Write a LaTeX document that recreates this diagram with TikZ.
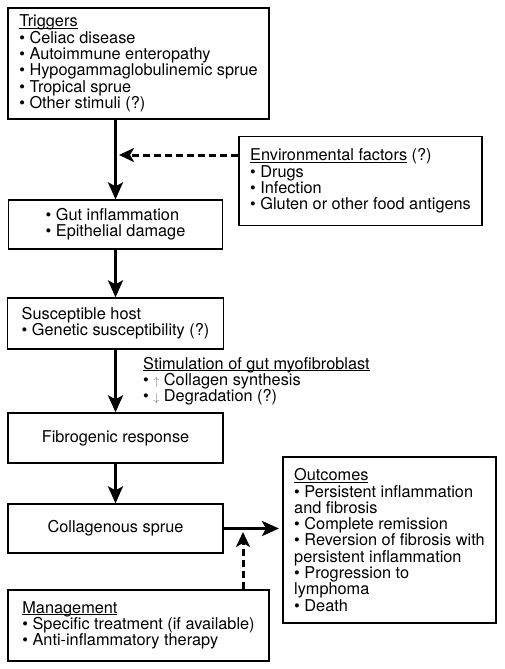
\documentclass[tikz,border=0pt]{standalone}
\usepackage{fontspec}
\setmainfont{TeX Gyre Heros}
\usetikzlibrary{arrows.meta}
\newcommand\myul[1]{\setbox0\hbox{#1}\rlap{\rule[-1.8pt]{\wd0}{0.9pt}}\box0}
\newcommand\thinarr[1]{{\color{black!55}\fontsize{13}{13}\selectfont$#1$}}
\begin{document}
\begin{tikzpicture}[x=1pt,y=1pt,
  box/.style={draw,line width=1.3pt,align=left,inner sep=0pt,font=\fontsize{16.3}{16.3}\selectfont},
  txt/.style={align=left,inner sep=0pt,font=\fontsize{16.3}{16.3}\selectfont},
  arr/.style={line width=3pt,-{Stealth[length=17pt,width=15pt,inset=4pt]}},
  darr/.style={line width=3pt,dash pattern=on 7pt off 4pt,-{Stealth[length=15pt,width=14pt,inset=4pt]}}
]
\useasboundingbox (0,0) rectangle (504,-669);
\fill[white] (0,0) rectangle (504,-669);
\node[box,minimum width=261pt,minimum height=111pt] (trig) at (138.5,-63.5)
  {\myul{Triggers}\\ \textbullet\ Celiac disease\\ \textbullet\ Autoimmune enteropathy\\ \textbullet\ Hypogammaglobulinemic sprue\\ \textbullet\ Tropical sprue\\ \textbullet\ Other stimuli (?)};
\node[box,minimum width=243pt,minimum height=89pt] (env) at (360.5,-181)
  {\myul{Environmental factors}\ (?)\\ \textbullet\ Drugs\\ \textbullet\ Infection\\ \textbullet\ Gluten or other food antigens};
\node[box,minimum width=214pt,minimum height=49pt] (gut) at (115.5,-224.5)
  {\textbullet\ Gut inflammation\\ \textbullet\ Epithelial damage};
\node[box,minimum width=216pt,minimum height=51pt] (host) at (115.5,-323.5)
  {Susceptible host\\ \textbullet\ Genetic susceptibility (?)};
\node[txt,anchor=north west] (stim) at (143,-357)
  {\myul{Stimulation of gut myofibroblast}\\ \textbullet\ \thinarr{\uparrow} Collagen synthesis\\ \textbullet\ \thinarr{\downarrow} Degradation (?)};
\node[box,align=center,minimum width=215pt,minimum height=50pt] (fib) at (115.5,-438)
  {Fibrogenic response};
\node[box,align=center,minimum width=215pt,minimum height=49pt] (coll) at (115.5,-528.5)
  {Collagenous sprue};
\node[box,minimum width=213pt,minimum height=166pt] (out) at (389.5,-540)
  {\myul{Outcomes}\\ \textbullet\ Persistent inflammation\\ and fibrosis\\ \textbullet\ Complete remission\\ \textbullet\ Reversion of fibrosis with\\ persistent inflammation\\ \textbullet\ Progression to\\ lymphoma\\ \textbullet\ Death};
\node[box,minimum width=261pt,minimum height=71pt] (mgmt) at (138.5,-625.5)
  {\myul{Management}\\ \textbullet\ Specific treatment (if available)\\ \textbullet\ Anti-inflammatory therapy};
\coordinate (envtip) at (119,-155);
\coordinate (mtip) at (243,-532);
\coordinate (outtip) at (279,-528.5);
\draw[arr] (trig.south -| gut.north) -- (gut.north);
\draw[darr] (env.west |- envtip) -- (envtip);
\draw[arr] (gut.south) -- (host.north);
\draw[arr] (host.south) -- (fib.north);
\draw[arr] (fib.south) -- (coll.north);
\draw[arr] (coll.east) -- (outtip);
\draw[darr] (mgmt.north -| mtip) -- (mtip);
\end{tikzpicture}
\end{document}
